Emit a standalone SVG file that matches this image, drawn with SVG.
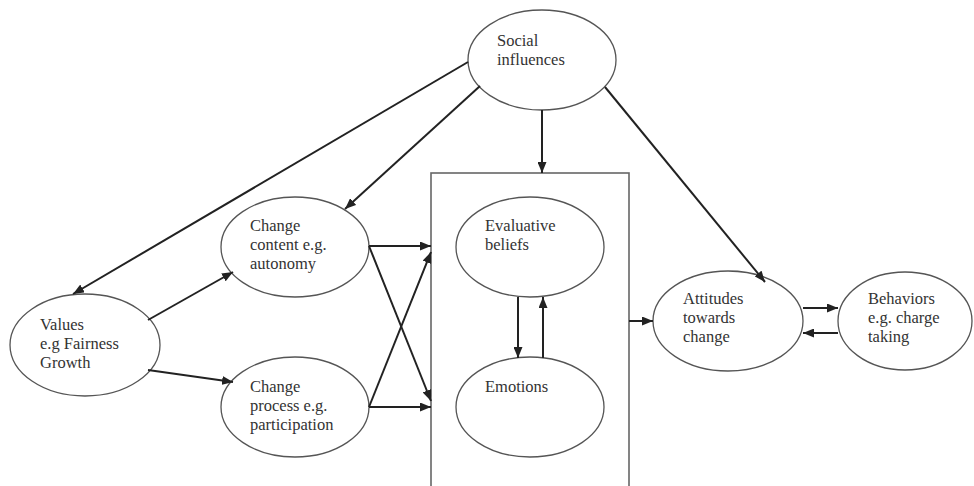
<svg xmlns="http://www.w3.org/2000/svg" width="974" height="486" viewBox="0 0 974 486">
<style>
.node ellipse{fill:#fff;stroke:#555;stroke-width:1.3}
text{font-family:"Liberation Serif","Times New Roman",serif;font-size:16.5px;fill:#333}
.conn line{stroke:#222;stroke-width:2;marker-end:url(#ah)}
.box{fill:none;stroke:#666;stroke-width:1.6}
</style>
<defs>
<marker id="ah" markerUnits="userSpaceOnUse" markerWidth="11" markerHeight="9" refX="11" refY="4.5" orient="auto">
<path d="M0,0 L11,4.5 L0,9 z" fill="#222"/>
</marker>
</defs>
<rect width="974" height="486" fill="#fff"/>
<g id="box"><rect class="box" x="431" y="173" width="198" height="330"/></g>
<g id="social" class="node"><ellipse cx="542" cy="60" rx="74" ry="50"/><text x="497" y="46">Social</text><text x="497" y="65">influences</text></g>
<g id="content" class="node"><ellipse cx="295" cy="247" rx="74" ry="50"/><text x="250" y="231">Change</text><text x="250" y="250">content e.g.</text><text x="250" y="269">autonomy</text></g>
<g id="process" class="node"><ellipse cx="295" cy="407" rx="74" ry="50"/><text x="250" y="392">Change</text><text x="250" y="411">process e.g.</text><text x="250" y="430">participation</text></g>
<g id="values" class="node"><ellipse cx="85" cy="345" rx="75" ry="51"/><text x="40" y="330">Values</text><text x="40" y="349">e.g Fairness</text><text x="40" y="368">Growth</text></g>
<g id="beliefs" class="node"><ellipse cx="530" cy="247" rx="74" ry="50"/><text x="485" y="231">Evaluative</text><text x="485" y="250">beliefs</text></g>
<g id="emotions" class="node"><ellipse cx="530" cy="407" rx="74" ry="50"/><text x="485" y="392">Emotions</text></g>
<g id="attitudes" class="node"><ellipse cx="728" cy="321" rx="75" ry="50"/><text x="683" y="304">Attitudes</text><text x="683" y="323">towards</text><text x="683" y="342">change</text></g>
<g id="behaviors" class="node"><ellipse cx="905" cy="321" rx="67" ry="49"/><text x="868" y="304">Behaviors</text><text x="868" y="323">e.g. charge</text><text x="868" y="342">taking</text></g>
<g id="connectors" class="conn">
<line x1="468" y1="62" x2="73" y2="294"/>
<line x1="480" y1="86" x2="345" y2="209"/>
<line x1="542" y1="110" x2="542" y2="173"/>
<line x1="605" y1="87" x2="765" y2="282"/>
<line x1="148" y1="320" x2="233" y2="272"/>
<line x1="148" y1="370" x2="233" y2="382"/>
<line x1="369" y1="246" x2="431" y2="246"/>
<line x1="369" y1="246" x2="431" y2="401"/>
<line x1="369" y1="407" x2="431" y2="252"/>
<line x1="369" y1="407" x2="431" y2="407"/>
<line x1="518" y1="297" x2="518" y2="358"/>
<line x1="543" y1="358" x2="543" y2="297"/>
<line x1="629" y1="321" x2="653" y2="321"/>
<line x1="803" y1="308" x2="838" y2="308"/>
<line x1="838" y1="333" x2="803" y2="333"/>
</g>
</svg>
